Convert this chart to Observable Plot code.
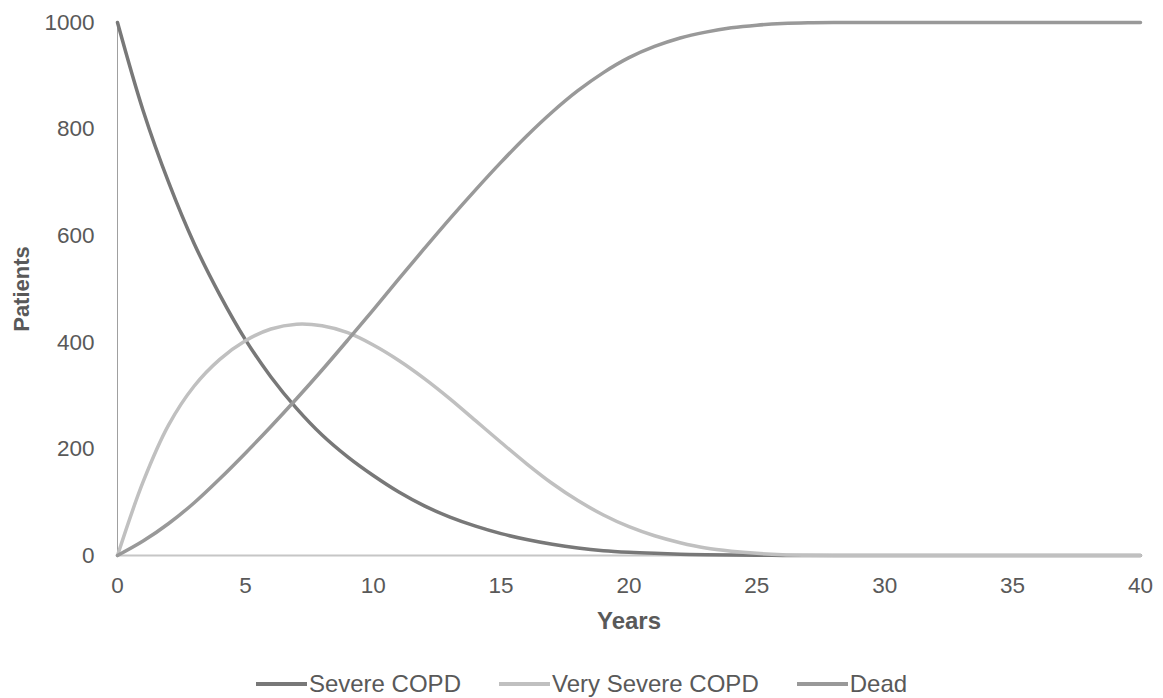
<!DOCTYPE html>
<html>
<head>
<meta charset="utf-8">
<script src="https://cdn.jsdelivr.net/npm/d3@7"></script>
<script src="https://cdn.jsdelivr.net/npm/@observablehq/plot@0.6"></script>
<style>
  html, body { margin: 0; padding: 0; background: #fff; }
  body { width: 1163px; height: 698px; overflow: hidden; font-family: "Liberation Sans", Arial, sans-serif; }
  #legend { display: flex; justify-content: center; align-items: center; height: 24px; margin-top: 12px; color: #595959; font-size: 24px; line-height: 24px; }
  .item { display: flex; align-items: center; margin: 0 19px; }
  .sw { width: 51px; height: 4px; margin-right: 2px; }
</style>
</head>
<body>
<div id="chart"></div>
<div id="legend"></div>
<script>
const years = d3.range(0, 41);
const seriesNames = ["Severe COPD", "Very Severe COPD", "Dead"];
const seriesColors = ["#787878", "#c0c0c0", "#999999"];
const severe = [1000, 835, 700, 585, 489, 405, 335, 276, 226, 185, 150, 119, 93, 72, 55, 41, 30, 21, 14, 9, 6, 4, 2.5, 1.5, 0.8, 0.4, 0.2, 0, 0, 0, 0, 0, 0, 0, 0, 0, 0, 0, 0, 0, 0];
const verySevere = [0, 138, 245, 318, 368, 403, 425, 434, 431, 418, 395, 366, 332, 294, 253, 212, 172, 135, 103, 76, 54, 37, 24, 14, 8, 4, 1.5, 0.5, 0, 0, 0, 0, 0, 0, 0, 0, 0, 0, 0, 0, 0];
const dead = [0, 27, 60, 99, 144, 192, 242, 294, 348, 404, 461, 519, 576, 632, 686, 738, 787, 832, 872, 906, 934, 955, 971, 982, 990, 995, 998, 999.5, 1000, 1000, 1000, 1000, 1000, 1000, 1000, 1000, 1000, 1000, 1000, 1000, 1000];
const xTicks = [0, 5, 10, 15, 20, 25, 30, 35, 40];
const yTicks = [0, 200, 400, 600, 800, 1000];

const valuesBySeries = [severe, verySevere, dead];
const table = seriesNames.flatMap((name, i) => years.map((yr, j) => ({series: name, year: yr, value: valuesBySeries[i][j]})));

const chart = Plot.plot({
  width: 1163,
  height: 660,
  marginTop: 22,
  marginBottom: 105,
  marginLeft: 117,
  marginRight: 23,
  style: {fontFamily: '"Liberation Sans", Arial, sans-serif', fontSize: "22.5px", color: "#595959", background: "#fff"},
  x: {domain: [0, 40]},
  y: {domain: [0, 1000]},
  color: {domain: seriesNames, range: seriesColors},
  marks: [
    Plot.ruleX([0], {stroke: "#a0a0a0", strokeWidth: 1}),
    Plot.ruleY([0], {stroke: "#c6c6c6", strokeWidth: 2}),
    Plot.axisX({ticks: xTicks, tickSize: 0, tickPadding: 22, tickFormat: d => String(d), label: null, fontSize: 22.5}),
    Plot.axisY({ticks: yTicks, tickSize: 0, tickPadding: 23, tickFormat: d => String(d), label: null, fontSize: 22.5}),
    Plot.text(["Years"], {frameAnchor: "bottom", lineAnchor: "middle", textAnchor: "middle", dy: 66, fontWeight: "bold", fontSize: 24, fill: "#595959"}),
    Plot.text(["Patients"], {frameAnchor: "left", lineAnchor: "middle", textAnchor: "middle", dx: -96, rotate: -90, fontWeight: "bold", fontSize: 22, fill: "#595959"}),
    Plot.line(table, {x: "year", y: "value", z: "series", stroke: "series", strokeWidth: 3.5, curve: "catmull-rom"})
  ]
});
document.getElementById("chart").appendChild(chart);

const legend = document.getElementById("legend");
seriesNames.forEach((name, i) => {
  const item = document.createElement("div");
  item.className = "item";
  const sw = document.createElement("span");
  sw.className = "sw";
  sw.style.background = seriesColors[i];
  const label = document.createElement("span");
  label.textContent = name;
  item.appendChild(sw);
  item.appendChild(label);
  legend.appendChild(item);
});
</script>
</body>
</html>
